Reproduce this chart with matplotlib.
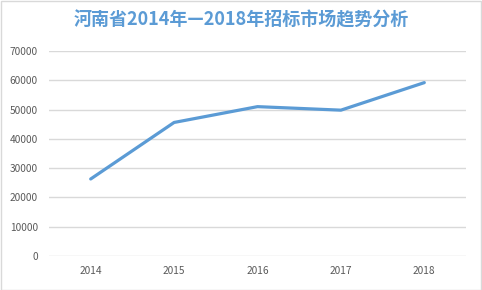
import matplotlib
matplotlib.use("Agg")
import matplotlib.pyplot as plt
from matplotlib.patches import Rectangle

plt.rcParams['font.family'] = ['Noto Sans CJK SC', 'DejaVu Sans']

years = ["2014", "2015", "2016", "2017", "2018"]
values = [26300, 45600, 51000, 49800, 59200]
yticks = [0, 10000, 20000, 30000, 40000, 50000, 60000, 70000]
title = "河南省2014年—2018年招标市场趋势分析"

W, H = 482, 290
fig = plt.figure(figsize=(W / 100, H / 100), dpi=100)
fig.patch.set_facecolor("white")
fig.patches.append(Rectangle((0.5 / W, 0.5 / H), 1 - 1.5 / W, 1 - 1.5 / H,
                             transform=fig.transFigure, fill=False,
                             edgecolor="#D9D9D9", linewidth=1))

ax = fig.add_axes([49 / W, 1 - 256 / H, (466 - 49) / W, (256 - 51) / H])
x = list(range(len(years)))
ax.plot(x, values, color="#5B9BD5", linewidth=2.3, solid_capstyle="round")
ax.set_xlim(-0.5, len(years) - 0.5)
ax.set_ylim(0, 70000)
ax.set_yticks(yticks)
ax.set_yticklabels([str(v) for v in yticks])
ax.set_xticks(x)
ax.set_xticklabels(years)
ax.yaxis.grid(True, color="#D9D9D9", linewidth=1)
ax.set_axisbelow(True)
for s in ax.spines.values():
    s.set_visible(False)
ax.tick_params(axis="both", length=0, labelsize=7.3, labelcolor="#595959")
ax.tick_params(axis="y", pad=8)
ax.tick_params(axis="x", pad=7)

fig.text(0.5, 1 - 20 / H, title, ha="center", va="center", fontsize=13,
         fontweight="bold", color="#5B9BD5")

fig.savefig("out.png", dpi=100)
